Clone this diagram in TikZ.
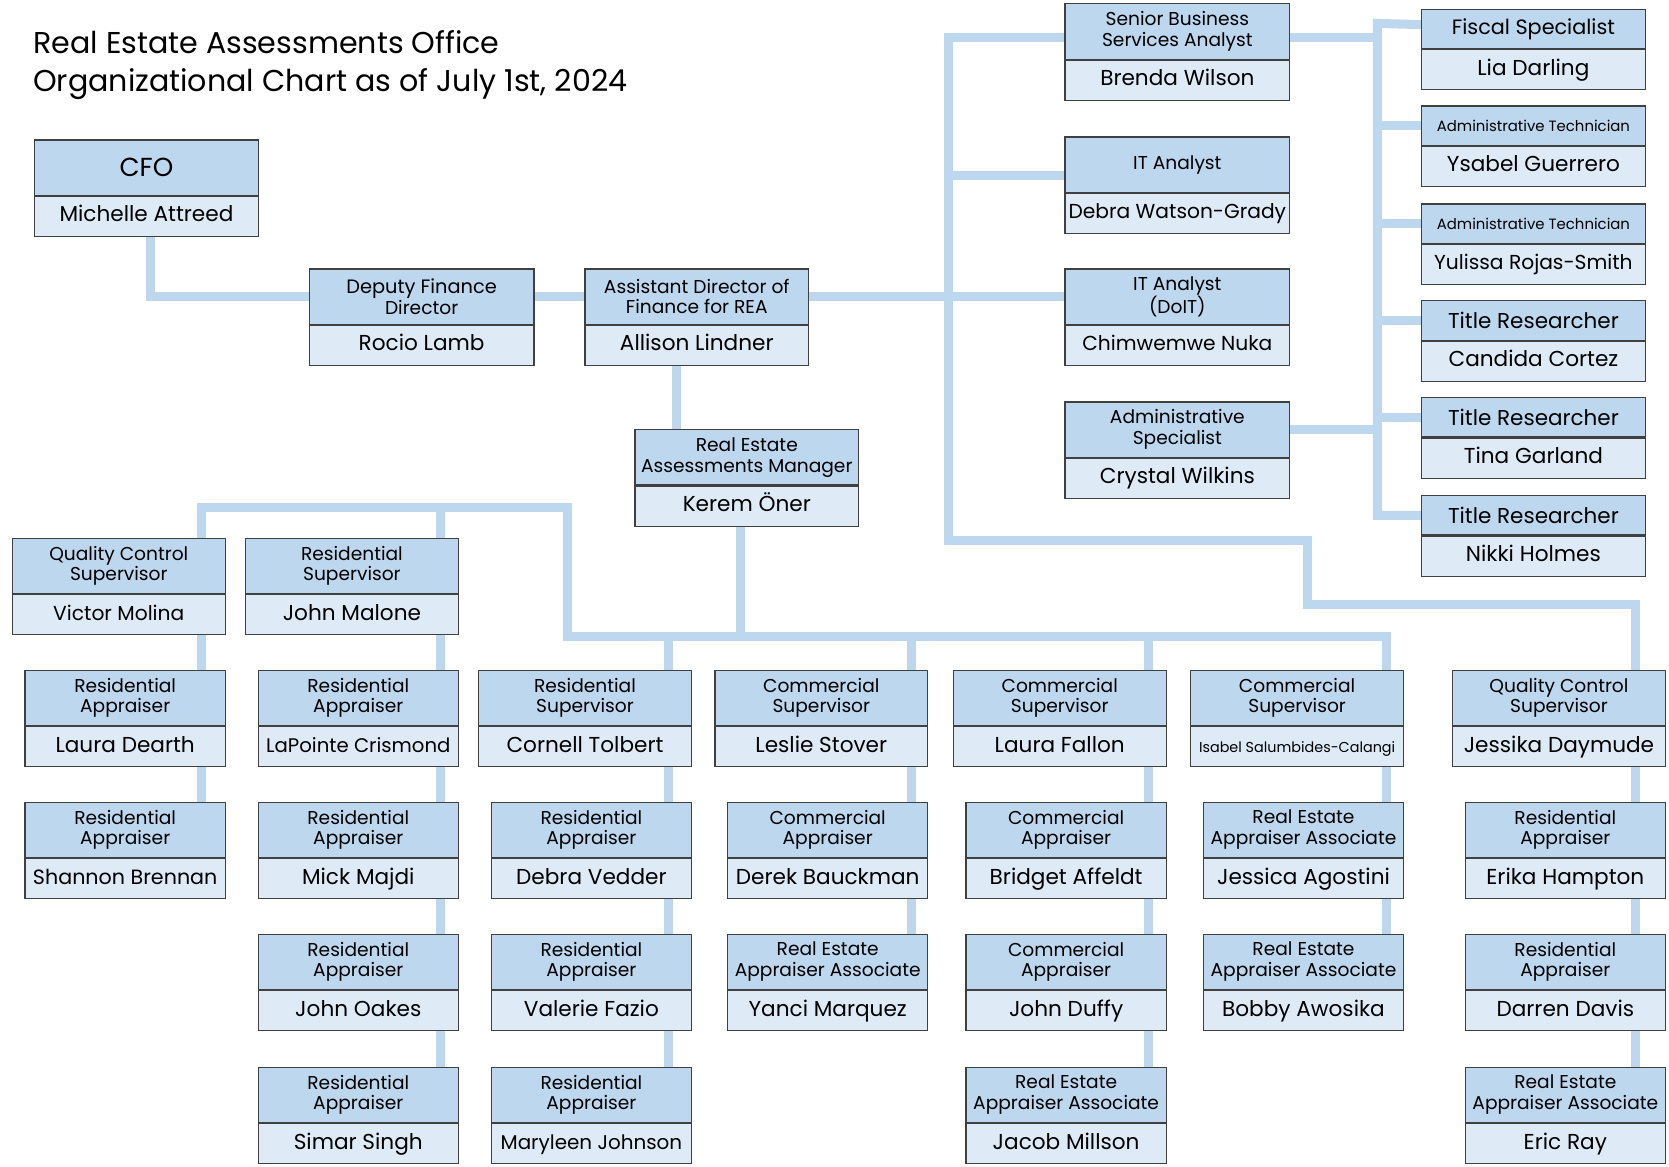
\documentclass[tikz,border=0pt]{standalone}
\usepackage{fontspec}
\setmainfont{Poppins}
\usetikzlibrary{positioning}

\definecolor{roleblue}{HTML}{BDD7EE}
\definecolor{nameblue}{HTML}{DEEBF7}
\definecolor{edgegrey}{HTML}{404040}

\pgfdeclarelayer{bg}
\pgfsetlayers{bg,main}

\newcommand{\fsbig}{\fontsize{19.5}{22}\selectfont}
\newcommand{\fstitle}{\fontsize{20.2}{22}\selectfont}
\newcommand{\fssmall}{\fontsize{14}{16}\selectfont}
\newcommand{\fsname}{\fontsize{19}{22}\selectfont}
\newcommand{\fsdeputy}{\fontsize{18.2}{19.5}\selectfont}

\tikzset{
  role/.style={draw=edgegrey, line width=1.2pt, fill=roleblue, anchor=north west,
    inner sep=0pt, align=center, font=\fontsize{17.5}{19.5}\selectfont},
  person/.style={draw=edgegrey, line width=1.2pt, fill=nameblue, inner sep=0pt,
    minimum height=37.5pt, text height=14pt, text depth=4pt, font=\fontsize{20.3}{22}\selectfont},
  link/.style={draw=roleblue, line width=8.5pt, line cap=rect},
}

% one box of the chart: role on top (#2), person below (#2-n)
\newcommand{\orgbox}[6][52]{%
  \node[role, minimum width=#4pt, minimum height=#1pt] (#2) at (#3) {#5};
  \node[person, minimum width=#4pt, below=0pt of #2] (#2-n) {#6};
}

\begin{document}
\begin{tikzpicture}[x=1pt, y=-1pt]
   \useasboundingbox (0,0) rectangle (1568,1096);
   \node[anchor=north west, inner sep=0pt, align=left, font=\fontsize{28.3}{36}\selectfont] (hdr) at (31,28)
     {Real Estate Assessments Office\\Organizational Chart as of July 1st, 2024};

   % finance chain
   \orgbox{cfo}{32,131}{210}{\fontsize{24.5}{26}\selectfont CFO}{Michelle Attreed}
   \orgbox{dfd}{290,252}{211}{\fsdeputy Deputy Finance\\Director}{Rocio Lamb}
   \orgbox{adf}{549,252}{210}{Assistant Director of\\Finance for REA}{Allison Lindner}
   \orgbox{rem}{596,403}{210}{Real Estate\\Assessments Manager}{Kerem Öner}

   % staff of the assistant director
   \orgbox{sbs}{1000,3}{211}{Senior Business\\Services Analyst}{Brenda Wilson}
   \orgbox{ita}{1000,128}{211}{IT Analyst}{\fsname Debra Watson-Grady}
   \orgbox{itd}{1000,252}{211}{IT Analyst\\(DoIT)}{\fsname Chimwemwe Nuka}
   \orgbox{asp}{1000,377}{211}{Administrative\\Specialist}{Crystal Wilkins}

   \orgbox[37]{fsp}{1335,8}{210}{\fsbig Fiscal Specialist}{Lia Darling}
   \orgbox[37]{atg}{1335,99}{210}{\fssmall Administrative Technician}{Ysabel Guerrero}
   \orgbox[37]{atr}{1335,191}{210}{\fssmall Administrative Technician}{\fsname Yulissa Rojas-Smith}
   \orgbox[37]{trc}{1335,282}{210}{\fstitle Title Researcher}{Candida Cortez}
   \orgbox[37]{trg}{1335,373}{210}{\fstitle Title Researcher}{Tina Garland}
   \orgbox[37]{trh}{1335,465}{210}{\fstitle Title Researcher}{Nikki Holmes}

   % teams of the manager
   \orgbox{vmo}{11,505}{200}{Quality Control\\Supervisor}{\fsname Victor Molina}
   \orgbox{lde}{23,629}{188}{Residential\\Appraiser}{Laura Dearth}
   \orgbox{sbr}{23,753}{188}{Residential\\Appraiser}{\fontsize{19.4}{22}\selectfont Shannon Brennan}

   \orgbox{jma}{230,505}{200}{Residential\\Supervisor}{John Malone}
   \orgbox{lcr}{242,629}{188}{Residential\\Appraiser}{\fontsize{18.5}{22}\selectfont LaPointe Crismond}
   \orgbox{mma}{242,753}{188}{Residential\\Appraiser}{Mick Majdi}
   \orgbox{joa}{242,877}{188}{Residential\\Appraiser}{John Oakes}
   \orgbox{ssi}{242,1002}{188}{Residential\\Appraiser}{Simar Singh}

   \orgbox{cto}{449,629}{200}{Residential\\Supervisor}{Cornell Tolbert}
   \orgbox{dve}{461,753}{188}{Residential\\Appraiser}{Debra Vedder}
   \orgbox{vfa}{461,877}{188}{Residential\\Appraiser}{Valerie Fazio}
   \orgbox{mjo}{461,1002}{188}{Residential\\Appraiser}{\fontsize{18.7}{22}\selectfont Maryleen Johnson}

   \orgbox{lst}{671,629}{200}{Commercial\\Supervisor}{Leslie Stover}
   \orgbox{dba}{683,753}{188}{Commercial\\Appraiser}{Derek Bauckman}
   \orgbox{yma}{683,877}{188}{Real Estate\\Appraiser Associate}{Yanci Marquez}

   \orgbox{lfa}{895,629}{200}{Commercial\\Supervisor}{Laura Fallon}
   \orgbox{baf}{907,753}{188}{Commercial\\Appraiser}{Bridget Affeldt}
   \orgbox{jdu}{907,877}{188}{Commercial\\Appraiser}{John Duffy}
   \orgbox{jmi}{907,1002}{188}{Real Estate\\Appraiser Associate}{Jacob Millson}

   \orgbox{isc}{1118,629}{200}{Commercial\\Supervisor}{\fontsize{13.5}{16}\selectfont Isabel Salumbides-Calangi}
   \orgbox{jag}{1130,753}{188}{Real Estate\\Appraiser Associate}{Jessica Agostini}
   \orgbox{baw}{1130,877}{188}{Real Estate\\Appraiser Associate}{Bobby Awosika}

   \orgbox{jda}{1364,629}{200}{Quality Control\\Supervisor}{Jessika Daymude}
   \orgbox{eha}{1376,753}{188}{Residential\\Appraiser}{Erika Hampton}
   \orgbox{dda}{1376,877}{188}{Residential\\Appraiser}{Darren Davis}
   \orgbox{era}{1376,1002}{188}{Real Estate\\Appraiser Associate}{Eric Ray}

   % connectors behind the boxes
   \begin{pgfonlayer}{bg}
     \draw[link] ([xshift=4pt]cfo-n.south) |- (dfd.west);
     \draw[link] (dfd.east) -- (adf.west);
     \draw[link] (adf.east) -- (itd.west);
     \draw[link] ([xshift=-19pt]adf-n.south) -- ([xshift=-66pt]rem.north);

     \coordinate (lsp) at (891,508);
     \coordinate (qcb) at (1228,568);
     \draw[link] ([yshift=-6pt]sbs.west) -| (lsp) -| (qcb) -| ([xshift=-29pt]jda.north east);
     \draw[link] ([yshift=-10pt]ita.west) -| (lsp);

     \coordinate (rsp) at (1294,22);
     \draw[link] ([yshift=4pt]fsp.west) -- (rsp) |- (trh.west);
     \foreach \n in {atg,atr,trc,trg}
       \draw[link] (\n.west) -| (rsp);
     \draw[link] ([yshift=-6pt]sbs.east) -| (rsp);
     \draw[link] (asp.east) -| (rsp);

     \coordinate (tb) at (533,477);
     \coordinate (mb) at (533,598);
     \draw[link] ([xshift=-23pt]vmo.north east) |- (tb) -- (mb) -| ([xshift=-17pt]isc.north east);
     \draw[link] ([xshift=-17pt]jma.north east) |- (tb);
     \draw[link] ([xshift=-6pt]rem-n.south) |- (mb);
     \foreach \n/\s in {cto/22, lst/16, lfa/17}
       \draw[link] ([xshift=-\s pt]\n.north east) |- (mb);

     \foreach \a/\b/\s in {vmo/lde/23, lde/sbr/23, jma/lcr/17, lcr/mma/17, mma/joa/17, joa/ssi/17,
         cto/dve/22, dve/vfa/22, vfa/mjo/22, lst/dba/16, dba/yma/16, lfa/baf/17, baf/jdu/17,
         jdu/jmi/17, isc/jag/17, jag/baw/17, jda/eha/29, eha/dda/29, dda/era/29}
       \draw[link] ([xshift=-\s pt]\a-n.south east) -- ([xshift=-\s pt]\b.north east);
   \end{pgfonlayer}
\end{tikzpicture}
\end{document}
